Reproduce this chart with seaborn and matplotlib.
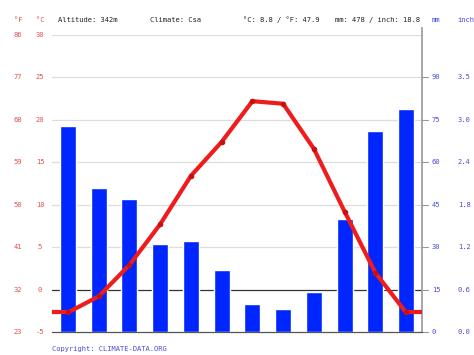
import numpy as np
import pandas as pd
import seaborn as sns
from matplotlib import pyplot as plt
from matplotlib import transforms

# monthly climate values
months = ["01", "02", "03", "04", "05", "06", "07", "08", "09", "10", "11", "12"]
precip_mm = [73, 51, 47, 31, 32, 22, 10, 8, 14, 40, 71, 79]
temp_c = [-2.7, -0.8, 2.9, 7.7, 13.4, 17.4, 22.2, 21.9, 16.6, 9.2, 2.0, -2.7]

temp_ticks = [-5, 0, 5, 10, 15, 20, 25, 30]
temp_f_labels = ["23", "32", "41", "50", "59", "68", "77", "86"]
mm_ticks = [0, 15, 30, 45, 60, 75, 90]
inch_labels = ["0.0", "0.6", "1.2", "1.8", "2.4", "3.0", "3.5"]

header = ["Altitude: 342m", "Climate: Csa", "°C: 8.8 / °F: 47.9", "mm: 478 / inch: 18.8"]

RED = "#ee1c1c"
LBL_RED = "#e05050"
LBL_BLUE = "#4a4ad8"
BAR_BLUE = "#0026ff"
FS = 5.1

df = pd.DataFrame({"month": months, "mm": precip_mm, "temp": temp_c, "pos": np.arange(12)})

sns.set_style("white")
plt.rcParams["font.family"] = ["DejaVu Sans Mono", "DejaVu Sans"]

fig = plt.figure(figsize=(4.74, 3.55), dpi=100)
ax = fig.add_axes([52 / 474, 1 - 332 / 355, 370 / 474, 297 / 355])

# precipitation bars (mm axis: 15 mm per 5 degC)
sns.barplot(data=df, x="month", y="mm", color=BAR_BLUE, width=0.52, saturation=1,
            ax=ax, zorder=2)
ax.set_ylim(0, 105)
ax.set_xlim(-0.52, 11.52)

# grid lines behind the bars
for t in mm_ticks[2:] + [105]:
    ax.axhline(t, color="#dddddd", lw=0.9, zorder=0)
ax.axhline(15, color="#333333", lw=0.9, zorder=1)

ax2 = ax.twinx()
ax2.set_ylim(-5, 30)
ax2.set_xlim(-0.52, 11.52)
# flat ends out to the frame
ax2.plot([-0.52, 0], [temp_c[0], temp_c[0]], color=RED, lw=3.0, solid_capstyle="butt")
ax2.plot([11, 11.52], [temp_c[-1], temp_c[-1]], color=RED, lw=3.0, solid_capstyle="butt")
sns.lineplot(data=df, x="pos", y="temp", color=RED, lw=3.0, marker="o", ms=4,
             markeredgewidth=0, markerfacecolor="#c81010", ax=ax2)

for a in (ax, ax2):
    a.set_xlabel("")
    a.set_ylabel("")
    a.set_yticks([])
    for s in a.spines.values():
        s.set_visible(False)

ax.spines["bottom"].set_visible(True)
ax.spines["bottom"].set_color("#555555")
ax.spines["bottom"].set_linewidth(0.9)
ax.spines["right"].set_visible(True)
ax.spines["right"].set_color("#999999")
ax.spines["right"].set_linewidth(1.2)
ax.spines["right"].set_bounds(0, 107.5)

ax.set_xticks(np.arange(12))
ax.set_xticklabels(months, fontsize=FS, color="#333333")
ax.set_xticks(np.arange(-0.5, 12, 1), minor=True)
ax.tick_params(axis="x", which="major", length=0, pad=4)
ax.tick_params(axis="x", which="minor", length=2, width=0.8, color="#555555", direction="out")
ax2.set_xticks([])

# right side ticks and labels
tr = transforms.blended_transform_factory(fig.transFigure, ax.transData)
for t, inch in zip(mm_ticks, inch_labels):
    ax.plot([11.52, 11.72], [t, t], color="#999999", lw=0.8, clip_on=False)
    ax.text(432 / 474, t, str(t), transform=tr, fontsize=FS, color=LBL_BLUE, va="center")
    ax.text(458 / 474, t, inch, transform=tr, fontsize=FS, color=LBL_BLUE, va="center")

# left side labels
tr2 = transforms.blended_transform_factory(fig.transFigure, ax2.transData)
for t, f in zip(temp_ticks, temp_f_labels):
    ax2.text(18 / 474, t, f, transform=tr2, fontsize=FS, color=LBL_RED, va="center", ha="center")
    ax2.text(40 / 474, t, str(t), transform=tr2, fontsize=FS, color=LBL_RED, va="center", ha="center")

# header line
hy = 1 - 20 / 355
fig.text(18 / 474, hy, "°F", fontsize=FS, color=LBL_RED, ha="center", va="center")
fig.text(40 / 474, hy, "°C", fontsize=FS, color=LBL_RED, ha="center", va="center")
for x, s in zip([58, 150, 243, 335], header):
    fig.text(x / 474, hy, s, fontsize=FS, color="#222222", va="center")
fig.text(432 / 474, hy, "mm", fontsize=FS, color=LBL_BLUE, va="center")
fig.text(457 / 474, hy, "inch", fontsize=FS, color=LBL_BLUE, va="center")

fig.text(52 / 474, 1 - 349 / 355, "Copyright: CLIMATE-DATA.ORG", fontsize=FS,
         color=LBL_BLUE, va="center")

fig.savefig("out.png", dpi=100, facecolor="white")
